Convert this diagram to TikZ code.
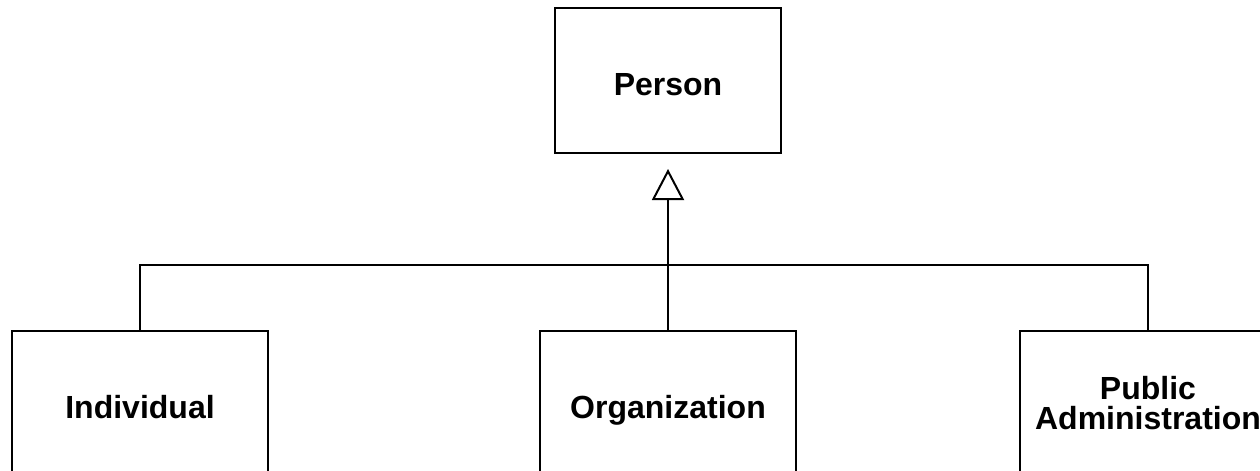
\documentclass[tikz,border=0pt]{standalone}
\usepackage{fontspec}
\setmainfont{Liberation Sans}
\usepackage{tikz}
\usetikzlibrary{positioning, arrows.meta}
\tikzset{class node/.style={rectangle, draw, line width=1pt, minimum width=128pt, minimum height=72.5pt, inner sep=0pt, align=center, font=\fontsize{16pt}{15pt}\selectfont\bfseries, text height=15pt, text depth=0pt},}

\begin{document}
\begin{tikzpicture}[line width=1pt]
			\useasboundingbox (0,0) rectangle (630pt,-235.5pt);
			% Classes
			\node[class node, minimum width=113pt] (person) at (334pt,-40.25pt) {Person};
			\node[class node] [below = 88pt of person] (org) {Organization};
			\node[class node] [left = 135pt of org] (ind) {Individual};
			\node[class node, text height=, text depth=] [right = 111pt of org] (pub) {Public\\Administration};
			\coordinate [above = 32.5pt of org.north] (split);

			% Generalization
			\draw[-{Triangle[open, length=15.5pt, width=16pt]}, shorten >=7.5pt]
			(org.north) -- (person.south);
			\draw (ind.north) |- (split) -| (pub.north);
		\end{tikzpicture}
\end{document}
